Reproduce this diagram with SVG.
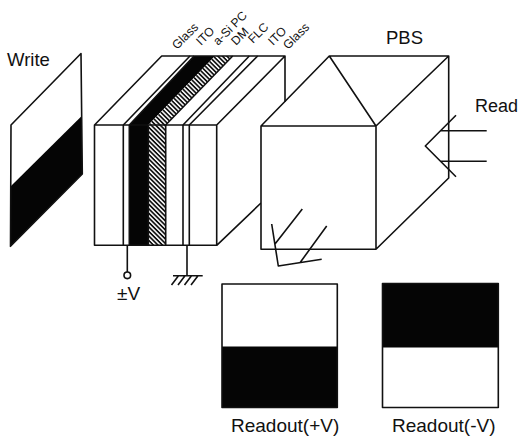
<svg xmlns="http://www.w3.org/2000/svg" width="519" height="439" viewBox="0 0 519 439">
<defs>
<pattern id="hatch" width="3.2" height="3.2" patternUnits="userSpaceOnUse" patternTransform="rotate(45)">
<rect width="3.2" height="3.2" fill="#fff"/><rect width="3.2" height="1.7" fill="#111"/>
</pattern>
</defs>
<style>
.l{fill:none;stroke:#111;stroke-width:1.6;stroke-linejoin:round}
.t{fill:#111;font-family:"Liberation Sans",Arial,sans-serif}
.k{fill:#050505}
.s{font-size:12.2px}
.m{font-size:18.5px}
</style>
<rect width="519" height="439" fill="#fff"/>
<g id="write">
<path class="k" d="M11 186L81.7 116L82.3 174L10 246.7Z"/>
<path class="l" d="M10.5 246L11 125L81 53.5L82.3 174L10 246.7"/>
<text class="t m" x="7" y="66">Write</text>
</g>
<g id="device">
<path d="M194 56L215 56L148.3 125L129.3 125Z" class="k"/>
<path d="M215 56L232.7 56L165.7 125L148.3 125Z" fill="url(#hatch)"/>
<rect x="129.3" y="125" width="19" height="120" class="k"/>
<rect x="148.3" y="125" width="17.4" height="120" fill="url(#hatch)"/>
<path class="l" d="M94.5 125L161.7 56L285 56L216.7 125ZM94.5 125V245.3H216.7V125M216.7 245.3L261 203M285 56V102"/>
<path class="l" d="M123.3 125V245M129.3 125V245M148.3 125V245M165.7 125V245M183 125V245M189.3 125V245"/>
<path class="l" d="M123.3 125L190 56M129.3 125L194 56M165.7 125L232.7 56M183 125L249.3 56M189.3 125L257.7 56"/>
<path class="l" d="M127.3 245V272M187 245V275.7M173 275.7H202.7M171.5 285L178.5 275.7M178 285L185 275.7M184.5 285L191.5 275.7M191 285L198 275.7"/>
<circle class="l" cx="127.3" cy="275.3" r="3.3" style="fill:#fff"/>
<text class="t m" x="117" y="300" style="font-size:19px">±V</text>
<text class="t s" transform="translate(177 50) rotate(-45)">Glass</text>
<text class="t s" transform="translate(201 46) rotate(-45)">ITO</text>
<text class="t s" transform="translate(218 46) rotate(-45)">a-Si PC</text>
<text class="t s" transform="translate(236 46) rotate(-45)">DM</text>
<text class="t s" transform="translate(253 44) rotate(-45)">FLC</text>
<text class="t s" transform="translate(273 46) rotate(-45)">ITO</text>
<text class="t s" transform="translate(288 50) rotate(-45)">Glass</text>
</g>
<g id="pbs">
<rect x="261" y="126" width="115" height="123.3" fill="#fff"/>
<path class="l" d="M261 126H376V249.3H261ZM261 126L329.3 56H448.7V178L376 249.3M329.3 56L376 126L448.7 56"/>
<text class="t m" x="386" y="43.5">PBS</text>
</g>
<g id="read">
<path class="l" d="M456 115.3L425.3 146L456 176.7M440 130.7H486.7M440 161.3H486.7"/>
<text class="t" style="font-size:18px" x="475" y="112">Read</text>
</g>
<g id="output">
<path class="l" d="M271.7 224L278.3 266L321.7 259.3M275 244L302.3 209M300 262.7L326.7 226"/>
</g>
<g id="readout-plus">
<rect x="222" y="346.5" width="115.3" height="61" class="k"/>
<rect class="l" x="222" y="284" width="115.3" height="123.5"/>
<text class="t" style="font-size:19px" x="231" y="431.5">Readout(+V)</text>
</g>
<g id="readout-minus">
<rect x="382.5" y="283.5" width="115.8" height="64" class="k"/>
<rect class="l" x="382.5" y="283.5" width="115.8" height="124"/>
<text class="t" style="font-size:19px" x="392" y="431.5">Readout(-V)</text>
</g>
</svg>
